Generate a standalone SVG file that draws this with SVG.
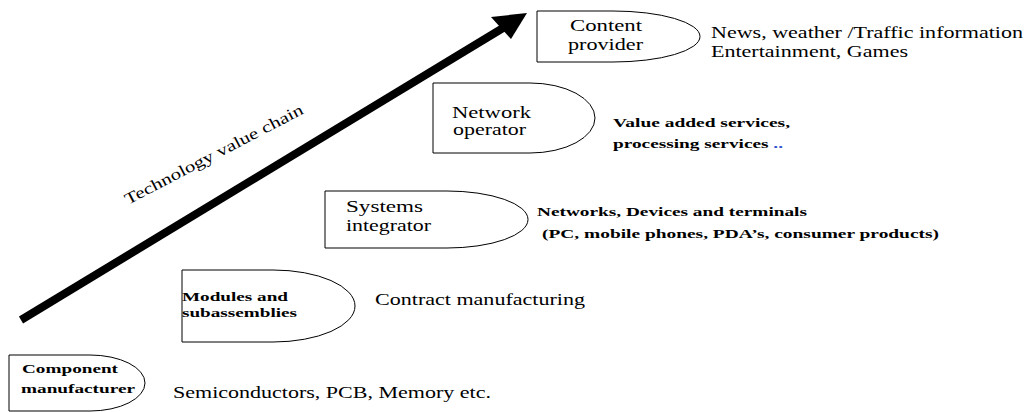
<svg xmlns="http://www.w3.org/2000/svg" width="1030" height="412" viewBox="0 0 1030 412">
<style>
.shape{fill:#fff;stroke:#000;stroke-width:1}
.r{font-family:"Liberation Serif","Times New Roman",serif;font-size:16px;fill:#000}
.b{font-family:"Liberation Serif","Times New Roman",serif;font-size:13px;font-weight:bold;fill:#000}
.blue{fill:#2f4fd0}
</style>
<rect width="1030" height="412" fill="#fff"/>
<g id="connectors">
<path d="M21,320 L503,28" stroke="#000" stroke-width="8" fill="none"/>
<polygon points="527,13 491,17 511,39" fill="#000"/>
<text class="r" font-size="15" transform="translate(128,205) rotate(-27.5)" textLength="199" lengthAdjust="spacingAndGlyphs">Technology value chain</text>
</g>
<g id="content-provider">
<path class="shape" d="M537,11 H613 A87,25.5 0 0 1 613,62 H537 Z"/>
<text class="r" x="570" y="31" textLength="72" lengthAdjust="spacingAndGlyphs">Content</text>
<text class="r" x="568" y="50" textLength="75" lengthAdjust="spacingAndGlyphs">provider</text>
<text class="r" x="711" y="38" textLength="312" lengthAdjust="spacingAndGlyphs">News, weather /Traffic information</text>
<text class="r" x="711" y="57" textLength="197" lengthAdjust="spacingAndGlyphs">Entertainment, Games</text>
</g>
<g id="network-operator">
<path class="shape" d="M433,83 H530 A65,35 0 0 1 530,153 H433 Z"/>
<text class="r" x="452" y="118" textLength="79" lengthAdjust="spacingAndGlyphs">Network</text>
<text class="r" x="453" y="135" textLength="73" lengthAdjust="spacingAndGlyphs">operator</text>
<text class="b" x="613" y="127" textLength="177" lengthAdjust="spacingAndGlyphs">Value added services,</text>
<text class="b" x="613" y="148" textLength="170" lengthAdjust="spacingAndGlyphs">processing services <tspan class="blue">..</tspan></text>
</g>
<g id="systems-integrator">
<path class="shape" d="M325,191 H447 A81,28.5 0 0 1 447,248 H325 Z"/>
<text class="r" x="346" y="212" textLength="77" lengthAdjust="spacingAndGlyphs">Systems</text>
<text class="r" x="346" y="231" textLength="85" lengthAdjust="spacingAndGlyphs">integrator</text>
<text class="b" x="537" y="216" textLength="270" lengthAdjust="spacingAndGlyphs">Networks, Devices and terminals</text>
<text class="b" x="542" y="238" textLength="397" lengthAdjust="spacingAndGlyphs">(PC, mobile phones, PDA’s, consumer products)</text>
</g>
<g id="modules">
<path class="shape" d="M182,270 H273 A82,36 0 0 1 273,342 H182 Z"/>
<text class="b" x="182" y="301" textLength="106" lengthAdjust="spacingAndGlyphs">Modules and</text>
<text class="b" x="182" y="317" textLength="115" lengthAdjust="spacingAndGlyphs">subassemblies</text>
<text class="r" x="375" y="305" textLength="210" lengthAdjust="spacingAndGlyphs">Contract manufacturing</text>
</g>
<g id="component-manufacturer">
<path class="shape" d="M9,355 H90 A55,28 0 0 1 90,411 H9 Z"/>
<text class="b" x="22" y="373" textLength="96" lengthAdjust="spacingAndGlyphs">Component</text>
<text class="b" x="21" y="393" textLength="114" lengthAdjust="spacingAndGlyphs">manufacturer</text>
<text class="r" x="173" y="398" textLength="318" lengthAdjust="spacingAndGlyphs">Semiconductors, PCB, Memory etc.</text>
</g>
</svg>
